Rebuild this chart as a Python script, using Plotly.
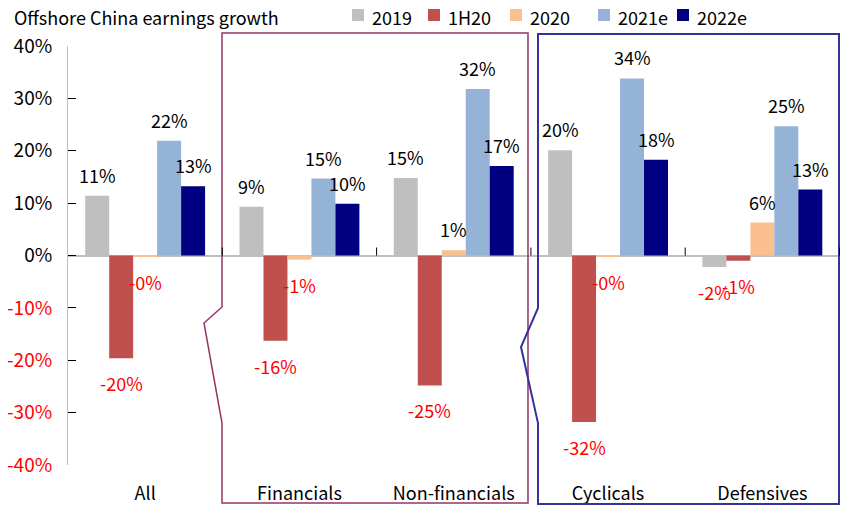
import plotly.graph_objects as go

# ---- data ----
categories = ["All", "Financials", "Non-financials", "Cyclicals", "Defensives"]
series_names = ["2019", "1H20", "2020", "2021e", "2022e"]
v2019 = [11.4, 9.3, 14.8, 20.1, -2.2]
v1h20 = [-19.6, -16.3, -24.8, -31.8, -1.0]
v2020 = [-0.2, -0.8, 1.0, -0.3, 6.3]
v2021e = [21.9, 14.7, 31.8, 33.8, 24.7]
v2022e = [13.2, 9.9, 17.1, 18.3, 12.6]
series_values = [v2019, v1h20, v2020, v2021e, v2022e]
y_ticks = [-40, -30, -20, -10, 0, 10, 20, 30, 40]

colors = ["#BFBFBF", "#C0504D", "#FAC090", "#95B3D7", "#000080"]
FONT = "Noto Sans CJK SC"
FS = 18

# the page body adds an 8px margin, so the figure is 8px smaller
OFF = 8
W, H = 855 - OFF, 520 - OFF
L, R, T, B = 68 - OFF, 15, 46 - OFF, 55
plot_w = W - L - R
plot_h = H - T - B
bargap = 0.223
bar_px = plot_w / len(categories) * (1 - bargap) / len(series_names)

fig = go.Figure()
for name, vals, col in zip(series_names, series_values, colors):
    fig.add_trace(go.Bar(
        x=categories, y=vals, name=name,
        marker=dict(color=col, line=dict(width=0)),
        hoverinfo="x+y+name",
    ))

# reference-pixel -> paper coordinates
def px(xp, yp):
    return (xp - 68) / plot_w, (465 - yp) / plot_h

# data labels
annotations = []
for j, vals in enumerate(series_values):
    for i, v in enumerate(vals):
        txt = f"{v:.0f}%"
        neg = v < 0
        annotations.append(dict(
            x=categories[i], y=v, xref="x", yref="y",
            text=txt, showarrow=False,
            xshift=(j - 2) * bar_px,
            yshift=-25 if neg else 21,
            font=dict(family=FONT, size=FS, color="#FF0000" if neg else "#000000"),
        ))

# title
tx, ty = px(12, 17)
annotations.append(dict(
    text="Offshore China earnings growth", xref="paper", yref="paper",
    x=tx, y=ty, xanchor="left", yanchor="middle",
    showarrow=False, font=dict(family=FONT, size=FS, color="#000000"),
))

def path(points):
    s = ""
    for k, (a, b) in enumerate(points):
        xx, yy = px(a, b)
        s += ("M" if k == 0 else "L") + f"{xx:.5f},{yy:.5f} "
    return s + "Z"

shapes = [
    dict(type="path", xref="paper", yref="paper", layer="above",
         path=path([(222, 33), (528, 33), (528, 503), (222, 503), (222, 423), (204, 323), (222, 307)]),
         line=dict(color="#993366", width=1.5)),
    dict(type="path", xref="paper", yref="paper", layer="above",
         path=path([(538, 34), (839, 34), (839, 504), (538, 504), (538, 423), (521, 347), (538, 308)]),
         line=dict(color="#333399", width=2)),
]
# category divider ticks on zero line
for i in range(len(categories)):
    shapes.append(dict(type="line", xref="x", yref="y", ysizemode="pixel", yanchor=0,
                       x0=i + 0.5, x1=i + 0.5, y0=0, y1=8,
                       line=dict(color="#000000", width=1)))

# legend (drawn from series names and colours)
legend_x = [352, 428, 510, 598, 677]
for name, col, lx in zip(series_names, colors, legend_x):
    x0, y0 = px(lx, 21)
    x1, y1 = px(lx + 12, 9)
    shapes.append(dict(type="rect", xref="paper", yref="paper",
                       x0=x0, x1=x1, y0=y0, y1=y1,
                       fillcolor=col, line=dict(width=0)))
    ax, ay = px(lx + 18, 17)
    annotations.append(dict(text=name, xref="paper", yref="paper", x=ax, y=ay,
                            xanchor="left", yanchor="middle", showarrow=False,
                            font=dict(family=FONT, size=FS, color="#000000")))

tick_text = [
    (f'<span style="color:#FF0000">{t}%</span>' if t < 0 else f"{t}%") for t in y_ticks
]

fig.update_layout(
    width=W, height=H,
    margin=dict(l=L, r=R, t=T, b=B, pad=0, autoexpand=False),
    paper_bgcolor="white", plot_bgcolor="white",
    barmode="group", bargap=bargap, bargroupgap=0,
    font=dict(family=FONT, size=FS, color="#000000"),
    showlegend=False,
    xaxis=dict(showline=False, ticks="", showgrid=False, zeroline=False,
               tickfont=dict(family=FONT, size=FS, color="#000000"),
               ticklabelstandoff=16, fixedrange=True, automargin=False),
    yaxis=dict(range=[-40, 40], tickvals=y_ticks, ticktext=tick_text,
               showline=True, linecolor="#BFBFBF", linewidth=1,
               ticks="inside", ticklen=8, tickcolor="#000000", tickwidth=1,
               showgrid=False, zeroline=True, zerolinecolor="#BFBFBF", zerolinewidth=1.5,
               tickfont=dict(family=FONT, size=19, color="#000000"),
               ticklabelstandoff=11, fixedrange=True, automargin=False),
    annotations=annotations,
    shapes=shapes,
)

fig.write_html("out.html")
